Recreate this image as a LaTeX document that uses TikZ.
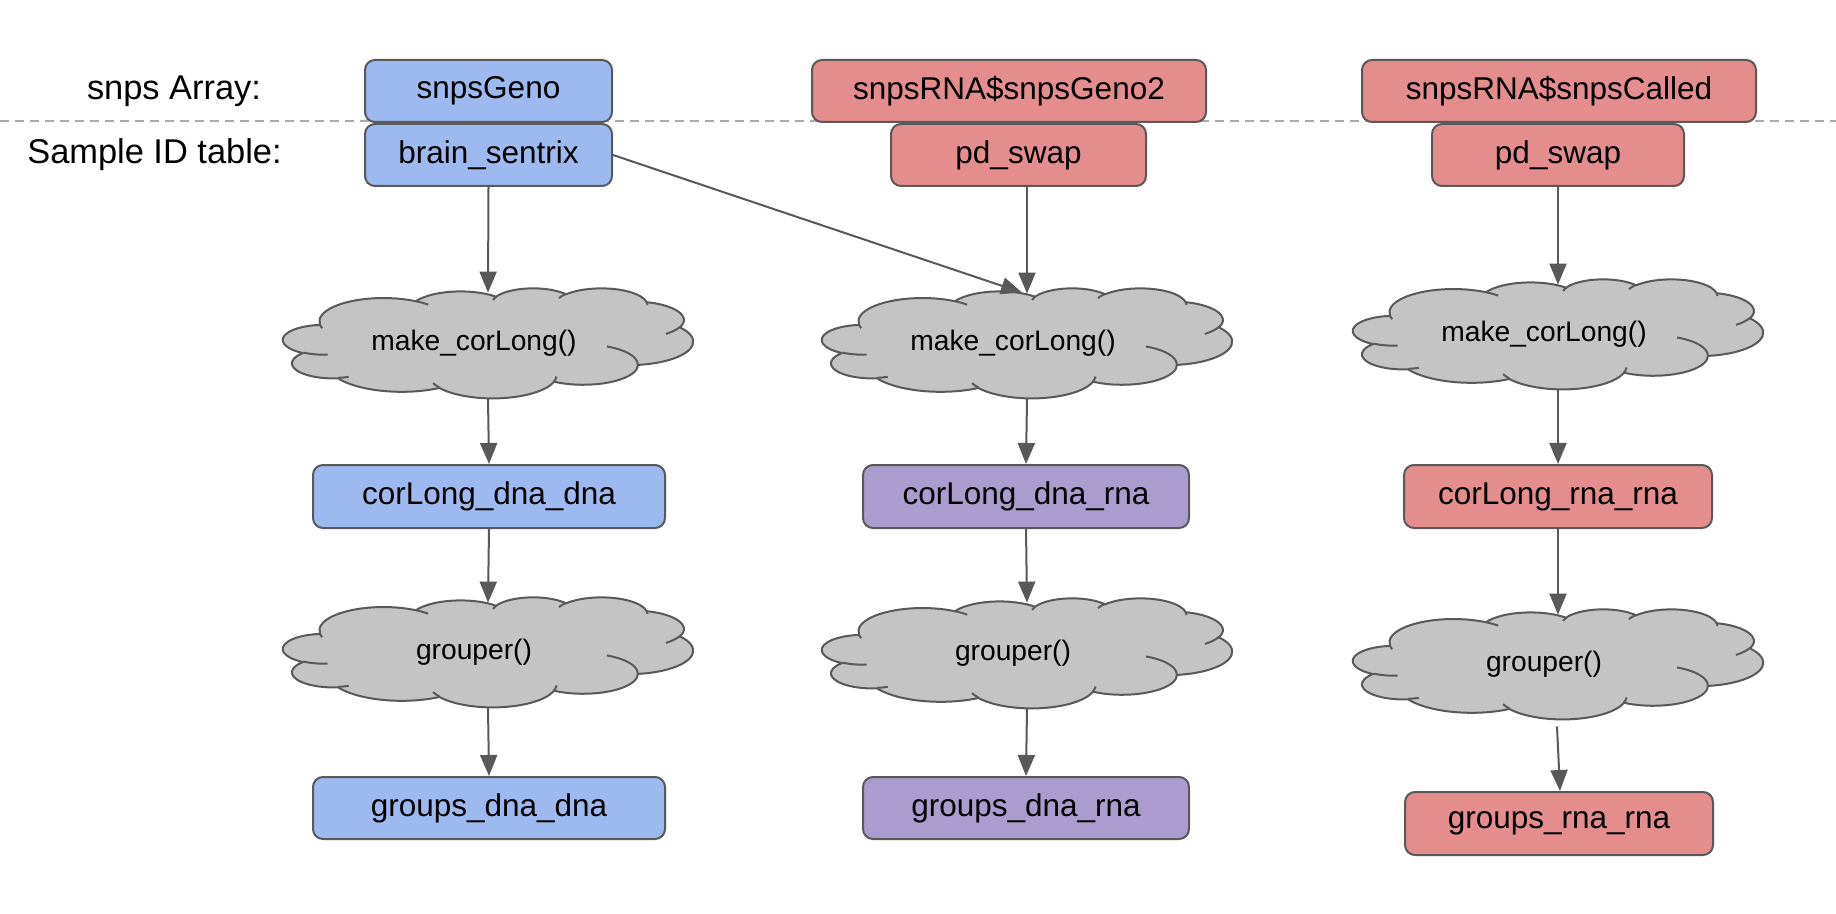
\documentclass[tikz,border=0pt]{standalone}
\usepackage{fontspec}
\setmainfont{Liberation Sans}
\usetikzlibrary{arrows.meta,calc}
\definecolor{bluefill}{HTML}{9DBAF0}
\definecolor{redfill}{HTML}{E48D8D}
\definecolor{purplefill}{HTML}{AA9CCF}
\definecolor{cloudgray}{HTML}{C4C4C4}
\definecolor{outline}{HTML}{595959}
\definecolor{dashgray}{HTML}{AAAAAA}

% cloud arcs (OOXML cloud, 432x432 frame, y down), scaled to 410x110 px (0.5pt per px)
\newcommand\defcloudarc[5]{%
  \pgfmathsetmacro\tmpa{atan2((#2)*sin(#4),(#3)*cos(#4))}%
  \pgfmathsetmacro\tmpb{atan2((#2)*sin(#4+#5),(#3)*cos(#4+#5))}%
  \pgfmathsetmacro\tmpb{\tmpa+mod(\tmpb-\tmpa+720,360)}%
  \pgfmathsetmacro\tmpc{0-(\tmpa)}%
  \pgfmathsetmacro\tmpd{0-(\tmpb)}%
  \pgfmathsetmacro\tmprx{(#2)*0.474537}%
  \pgfmathsetmacro\tmpry{(#3)*0.127315}%
  \expandafter\xdef\csname cloudarc#1\endcsname{arc[x radius=\tmprx pt, y radius=\tmpry pt, start angle=\tmpc, end angle=\tmpd]}%
}
\defcloudarc{A}{67.53}{91.90}{-190.4875}{123.7805}
\defcloudarc{B}{53.33}{72.67}{-144.1024}{89.9452}
\defcloudarc{C}{43.65}{59.45}{-145.8079}{99.7230}
\defcloudarc{D}{48.57}{65.95}{-130.9861}{117.2417}
\defcloudarc{E}{53.33}{72.73}{-78.7089}{109.0269}
\defcloudarc{F}{67.75}{92.20}{-46.2673}{130.2690}
\defcloudarc{G}{57.85}{78.67}{0.6250}{114.0333}
\defcloudarc{H}{67.52}{92.15}{22.4516}{115.1726}
\defcloudarc{I}{77.20}{105.43}{66.2426}{75.7110}
\defcloudarc{J}{43.60}{59.18}{-274.9421}{146.7356}
\defcloudarc{K}{43.45}{59.45}{-246.8285}{152.5189}
\defcloudarc{L}{43.45}{59.45}{86.7420}{26.4295}
\defcloudarc{M}{43.60}{59.18}{73.6105}{11.4475}
\defcloudarc{N}{67.52}{92.15}{137.6242}{14.0811}
\defcloudarc{O}{67.52}{92.15}{6.4533}{15.9984}
\defcloudarc{P}{57.85}{78.67}{-70.2924}{70.9174}
\defcloudarc{Q}{53.33}{72.73}{30.3180}{27.7515}
\defcloudarc{R}{48.57}{65.95}{-13.7443}{14.8589}
\defcloudarc{S}{48.57}{65.95}{-149.1815}{18.1954}
\defcloudarc{T}{43.65}{59.45}{-163.4943}{17.3699}
\defcloudarc{U}{67.53}{91.90}{-66.7070}{12.3194}
\defcloudarc{V}{67.53}{91.90}{155.4408}{11.8530}

\tikzset{
  box/.style={draw=outline, line width=1pt, rounded corners=5pt, inner sep=0pt,
    font=\fontsize{15.75}{18}\selectfont, text=black},
  lbl/.style={inner sep=0pt, font=\fontsize{17.2}{20}\selectfont, text=black},
  cloudnode/.style={inner sep=0pt, minimum width=205pt, minimum height=55pt,
    font=\fontsize{14.1}{17}\selectfont, text=black},
  conn/.style={draw=outline, line width=1pt, -{Triangle[length=10.5pt,width=8.5pt]}},
  cloudshape/.style={fill=cloudgray, draw=outline, line width=1pt, line join=round},
  cloudinner/.style={draw=outline, line width=1pt},
  sepline/.style={draw=dashgray, line width=1pt, dash pattern=on 4.5pt off 3pt},
}

\newcommand\cloudat[2]{%
  \begin{scope}[shift={(#1,#2)},x=0.474537pt,y=-0.127315pt]
    \path[cloudshape] (39.00,143.70) \cloudarcA \cloudarcB \cloudarcC \cloudarcD
      \cloudarcE \cloudarcF \cloudarcG \cloudarcH \cloudarcI \cloudarcJ \cloudarcK -- cycle;
    \path[cloudinner] (46.93,261.77) \cloudarcL (69.28,348.99) \cloudarcM
      (164.78,390.90) \cloudarcN (288.27,347.51) \cloudarcO
      (341.29,229.54) \cloudarcP (417.98,153.54) \cloudarcQ
      (383.24,54.26) \cloudarcR (290.78,39.52) \cloudarcS
      (221.41,47.20) \cloudarcT (140.00,51.92) \cloudarcU
      (41.27,157.89) \cloudarcV;
  \end{scope}}

\begin{document}
\begin{tikzpicture}[x=0.5pt,y=-0.5pt]
\fill[white] (0,0) rectangle (1836,914);
\useasboundingbox (0,0) rectangle (1836,914);

% separator
\draw[sepline] (0,120.7) -- (1836,120.7);

% row labels
\node[lbl] (lab1) at (174,91) {snps Array:};
\node[lbl] (lab2) at (154.5,155) {Sample ID table:};

% column 1
\node[box, fill=bluefill, minimum width=123.5pt, minimum height=31pt] (g1) at (488.5,91) {snpsGeno};
\node[box, fill=bluefill, minimum width=123.5pt, minimum height=31pt] (b1) at (488.5,155) {brain\_sentrix};
\cloudat{283}{288}
\node[cloudnode] (cl1) at (488,343) {\hspace*{-7pt}make\_corLong()\hspace*{7pt}};
\node[box, fill=bluefill, minimum width=176pt, minimum height=31.5pt] (d1) at (489,496.5) {corLong\_dna\_dna};
\cloudat{283}{597}
\node[cloudnode] (gr1) at (488,652) {\hspace*{-7pt}grouper()\hspace*{7pt}};
\node[box, fill=bluefill, minimum width=176pt, minimum height=31pt] (o1) at (489,808) {groups\_dna\_dna};

% column 2
\node[box, fill=redfill, minimum width=197pt, minimum height=31pt] (g2) at (1009,91) {snpsRNA\$snpsGeno2};
\node[box, fill=redfill, minimum width=127.5pt, minimum height=31pt] (b2) at (1018.5,155) {pd\_swap};
\cloudat{822}{288}
\node[cloudnode] (cl2) at (1027,343) {\hspace*{-7pt}make\_corLong()\hspace*{7pt}};
\node[box, fill=purplefill, minimum width=163pt, minimum height=31.5pt] (d2) at (1026,496.5) {corLong\_dna\_rna};
\cloudat{822}{598}
\node[cloudnode] (gr2) at (1027,653) {\hspace*{-7pt}grouper()\hspace*{7pt}};
\node[box, fill=purplefill, minimum width=163pt, minimum height=31pt] (o2) at (1026,808) {groups\_dna\_rna};

% column 3
\node[box, fill=redfill, minimum width=197pt, minimum height=31pt] (g3) at (1559,91) {snpsRNA\$snpsCalled};
\node[box, fill=redfill, minimum width=126pt, minimum height=31pt] (b3) at (1558,155) {pd\_swap};
\cloudat{1353}{279}
\node[cloudnode] (cl3) at (1558,334) {\hspace*{-7pt}make\_corLong()\hspace*{7pt}};
\node[box, fill=redfill, minimum width=154pt, minimum height=31.5pt] (d3) at (1558,496.5) {corLong\_rna\_rna};
\cloudat{1353}{609}
\node[cloudnode] (gr3) at (1558,664) {\hspace*{-7pt}grouper()\hspace*{7pt}};
\node[box, fill=redfill, minimum width=154pt, minimum height=31.5pt] (o3) at (1559,823.5) {groups\_rna\_rna};

% connectors
\draw[conn] (b1.south) -- ($(cl1.north)+(0,5)$);
\draw[conn] (cl1.south) -- (d1.north);
\draw[conn] (d1.south) -- ($(gr1.north)+(0,6)$);
\draw[conn] (gr1.south) -- (o1.north);

\draw[conn] (b2.south -| cl2.north) -- ($(cl2.north)+(0,6)$);
\draw[conn] (b1.east) -- ($(cl2.north)+(-5,5)$);
\draw[conn] (cl2.south) -- (d2.north);
\draw[conn] (d2.south) -- ($(gr2.north)+(0,5)$);
\draw[conn] (gr2.south) -- (o2.north);

\draw[conn] (b3.south) -- ($(cl3.north)+(0,6)$);
\draw[conn] (cl3.south) -- (d3.north);
\draw[conn] (d3.south) -- ($(gr3.north)+(0,6)$);
\draw[conn] ($(gr3.south)+(-1,7)$) -- ($(o3.north)+(1,0)$);
\end{tikzpicture}
\end{document}
